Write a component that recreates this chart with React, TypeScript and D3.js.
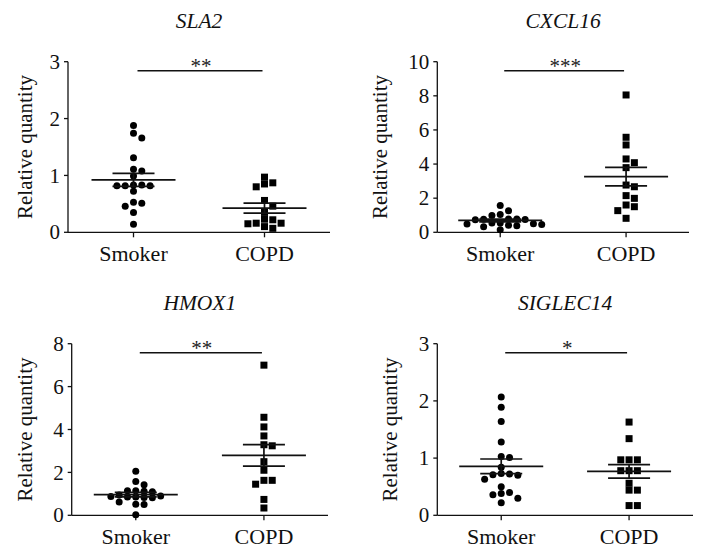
import React from "react";
import * as d3 from "d3";

// ---- data ----
const genes = ["SLA2", "CXCL16", "HMOX1", "SIGLEC14"];
const groups = ["Smoker", "COPD"];
const stars = ["**", "***", "**", "*"];

const sla2Ticks = [0, 1, 2, 3];
const cxcl16Ticks = [0, 2, 4, 6, 8, 10];
const hmox1Ticks = [0, 2, 4, 6, 8];
const siglec14Ticks = [0, 1, 2, 3];

const sla2Smoker = [1.88, 1.74, 1.66, 1.31, 1.11, 1.08, 0.99, 0.83, 0.82, 0.82, 0.83, 0.82, 0.72, 0.53, 0.51, 0.46, 0.35, 0.14];
const sla2Copd = [0.97, 0.87, 0.85, 0.8, 0.56, 0.46, 0.35, 0.23, 0.22, 0.16, 0.16, 0.15, 0.1, 0.07];

const cxcl16Smoker = [1.57, 1.27, 1.05, 0.98, 0.78, 0.78, 0.76, 0.75, 0.74, 0.55, 0.55, 0.5, 0.48, 0.45, 0.42, 0.38, 0.32, 0.15];
const cxcl16Copd = [8.05, 5.57, 5.12, 4.3, 4.08, 3.79, 2.77, 2.67, 2.15, 1.99, 1.6, 1.5, 1.27, 0.82];

const hmox1Smoker = [2.05, 1.58, 1.42, 1.15, 1.12, 1.1, 1.15, 0.95, 0.9, 0.88, 0.85, 0.85, 0.83, 0.82, 0.62, 0.52, 0.5, 0.02];
const hmox1Copd = [7.0, 4.57, 4.12, 3.7, 3.29, 3.24, 2.5, 2.1, 1.63, 1.63, 1.45, 0.74, 0.34];

const siglec14Smoker = [2.07, 1.89, 1.64, 1.28, 1.03, 1.01, 0.84, 0.73, 0.72, 0.71, 0.7, 0.63, 0.5, 0.4, 0.38, 0.36, 0.3, 0.22];
const siglec14Copd = [1.63, 1.34, 0.97, 0.97, 0.97, 0.78, 0.78, 0.78, 0.56, 0.44, 0.44, 0.17, 0.17];

// ---- layout ----
const W = 709;
const H = 556;
const FONT = "'Liberation Serif', 'Times New Roman', serif";

const panels = [
  { gene: genes[0], smoker: sla2Smoker, copd: sla2Copd, ticks: sla2Ticks, star: stars[0], left: 68, right: 330, top: 61.7, bottom: 232.3, labelX: 32 },
  { gene: genes[1], smoker: cxcl16Smoker, copd: cxcl16Copd, ticks: cxcl16Ticks, star: stars[1], left: 437.3, right: 689, top: 61.7, bottom: 232.3, labelX: 387 },
  { gene: genes[2], smoker: hmox1Smoker, copd: hmox1Copd, ticks: hmox1Ticks, star: stars[2], left: 71.7, right: 328, top: 343.7, bottom: 515.3, labelX: 32 },
  { gene: genes[3], smoker: siglec14Smoker, copd: siglec14Copd, ticks: siglec14Ticks, star: stars[3], left: 437.3, right: 693, top: 343.7, bottom: 515.3, labelX: 397 },
];

const STEP = 8.3;
const MIN_DIST = 5.8;

function swarm(values: number[], y: (v: number) => number) {
  const order = values.map((v, i) => ({ v, i, y: y(v) })).sort((a, b) => b.v - a.v);
  const placed: { x: number; y: number }[] = [];
  const out: { x: number; y: number }[] = new Array(values.length);
  const cands = [0, 1, -1, 2, -2, 3, -3, 4, -4, 5, -5, 6, -6];
  for (const p of order) {
    for (const c of cands) {
      const x = c * STEP;
      if (placed.every((q) => Math.hypot(q.x - x, q.y - p.y) >= MIN_DIST)) {
        out[p.i] = { x, y: p.y };
        placed.push({ x, y: p.y });
        break;
      }
    }
  }
  return out;
}

function stats(values: number[]) {
  const m = d3.mean(values) as number;
  const sd = d3.deviation(values) as number;
  return { mean: m, sem: sd / Math.sqrt(values.length) };
}

function Panel({ p }: { p: (typeof panels)[number] }) {
  const maxV = p.ticks[p.ticks.length - 1];
  const y = d3.scaleLinear().domain([0, maxV]).range([p.bottom, p.top]);
  const x = d3.scalePoint<string>().domain(groups).range([p.left, p.right]).padding(0.5);
  const xs = x("Smoker") as number;
  const xc = x("COPD") as number;
  const sPts = swarm(p.smoker, y);
  const cPts = swarm(p.copd, y);
  const sS = stats(p.smoker);
  const cS = stats(p.copd);
  const midX = (p.left + p.right) / 2;
  const sigY = p.top + 9;
  const stroke = "#111";

  const meanSem = (cx: number, st: { mean: number; sem: number }, key: string) => (
    <g key={key} stroke={stroke} strokeWidth={1.7}>
      <line x1={cx - 42} x2={cx + 42} y1={y(st.mean)} y2={y(st.mean)} />
      <line x1={cx - 21} x2={cx + 21} y1={y(st.mean + st.sem)} y2={y(st.mean + st.sem)} />
      <line x1={cx - 21} x2={cx + 21} y1={y(st.mean - st.sem)} y2={y(st.mean - st.sem)} />
      <line x1={cx} x2={cx} y1={y(st.mean + st.sem)} y2={y(st.mean - st.sem)} />
    </g>
  );

  return (
    <g fontFamily={FONT}>
      <text x={midX} y={p.top - 34} textAnchor="middle" fontSize={21.5} fontStyle="italic" fill="#111">
        {p.gene}
      </text>
      {/* y axis */}
      <line x1={p.left} x2={p.left} y1={p.top} y2={p.bottom} stroke={stroke} strokeWidth={1.3} />
      {p.ticks.map((t) => (
        <g key={t}>
          <line x1={p.left - 4} x2={p.left} y1={y(t)} y2={y(t)} stroke={stroke} strokeWidth={1.3} />
          <text x={p.left - 8} y={y(t)} dy="0.34em" textAnchor="end" fontSize={21} fill="#111">
            {t}
          </text>
        </g>
      ))}
      {/* x axis */}
      <line x1={p.left} x2={p.right} y1={p.bottom} y2={p.bottom} stroke={stroke} strokeWidth={1.3} />
      {groups.map((g) => (
        <g key={g}>
          <line x1={x(g)} x2={x(g)} y1={p.bottom} y2={p.bottom + 5} stroke={stroke} strokeWidth={1.3} />
          <text x={x(g)} y={p.bottom + 29} textAnchor="middle" fontSize={22} fill="#111">
            {g}
          </text>
        </g>
      ))}
      <text
        transform={`translate(${p.labelX},${(p.top + p.bottom) / 2}) rotate(-90)`}
        textAnchor="middle"
        fontSize={21}
        fill="#111"
      >
        Relative quantity
      </text>
      {/* significance */}
      <line x1={xs + 4} x2={xc - 2} y1={sigY} y2={sigY} stroke={stroke} strokeWidth={1.4} />
      <text x={(xs + xc) / 2 + 2} y={sigY + 2} textAnchor="middle" fontSize={21} fill="#222">
        {p.star}
      </text>
      {/* points */}
      {sPts.map((pt, i) => (
        <circle key={"s" + i} cx={xs + pt.x} cy={pt.y} r={3.5} fill="#000" />
      ))}
      {cPts.map((pt, i) => (
        <rect key={"c" + i} x={xc + pt.x - 3.5} y={pt.y - 3.5} width={7} height={7} fill="#000" />
      ))}
      {meanSem(xs, sS, "ms")}
      {meanSem(xc, cS, "mc")}
    </g>
  );
}

export default function App() {
  return (
    <svg
      width={W}
      height={H}
      viewBox={`0 0 ${W} ${H}`}
      style={{ position: "absolute", left: 0, top: 0, background: "#fff" }}
    >
      <rect width={W} height={H} fill="#fff" />
      {panels.map((p) => (
        <Panel key={p.gene} p={p} />
      ))}
    </svg>
  );
}
